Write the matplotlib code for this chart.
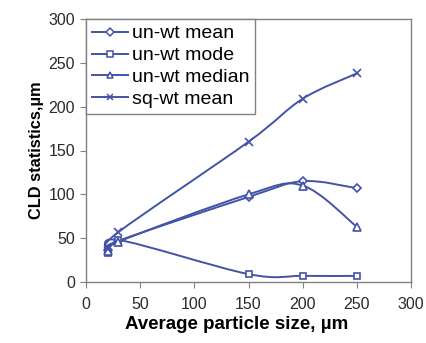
import matplotlib
matplotlib.use("Agg")
import matplotlib.pyplot as plt
from matplotlib.path import Path
from matplotlib.patches import PathPatch
from matplotlib.lines import Line2D

plt.rcParams["font.family"] = ["Liberation Sans", "DejaVu Sans"]

# ── data ─────────────────────────────────────────────
sizes = [20, 30, 150, 200, 250]
unwt_mean = [37, 47, 97, 115, 107]
unwt_mode = [33, 48, 9, 7, 7]
unwt_median = [35, 46, 100, 110, 63]
sqwt_mean = [38, 57, 160, 209, 238]

series = [
    ("un-wt mean", unwt_mean, "D", 4.5),
    ("un-wt mode", unwt_mode, "s", 5),
    ("un-wt median", unwt_median, "^", 5.5),
    ("sq-wt mean", sqwt_mean, "x", 6),
]

BLUE = "#4253a8"


def smooth_path(xs, ys, ax):
    """Excel-like smoothed line: Catmull-Rom as cubic Bezier in display space."""
    pts = ax.transData.transform(list(zip(xs, ys)))
    verts = [tuple(pts[0])]
    codes = [Path.MOVETO]
    n = len(pts)
    for i in range(n - 1):
        p0 = pts[i - 1] if i > 0 else pts[i]
        p1 = pts[i]
        p2 = pts[i + 1]
        p3 = pts[i + 2] if i + 2 < n else pts[i + 1]
        c1 = p1 + (p2 - p0) / 6.0
        c2 = p2 - (p3 - p1) / 6.0
        verts += [tuple(c1), tuple(c2), tuple(p2)]
        codes += [Path.CURVE4] * 3
    return Path(verts, codes)


fig = plt.figure(figsize=(4.27, 3.43), dpi=100)
ax = fig.add_axes([86 / 427, 1 - 282 / 343, 325 / 427, 263 / 343])
ax.set_xlim(0, 300)
ax.set_ylim(0, 300)

for label, vals, mk, ms in series:
    p = smooth_path(sizes, vals, ax)
    ax.add_patch(PathPatch(p, facecolor="none", edgecolor=BLUE, lw=1.4,
                           transform=None, zorder=2))
    ax.plot(sizes, vals, linestyle="none", marker=mk, ms=ms, mfc="white",
            mec=BLUE, mew=1.2, zorder=3)

handles = [Line2D([], [], color=BLUE, lw=1.4, marker=mk, ms=ms * 0.8,
                  mfc="white", mec=BLUE, mew=1.1) for _, _, mk, ms in series]
leg = ax.legend(handles, [s[0] for s in series], loc="upper left",
                bbox_to_anchor=(0, 1), borderaxespad=0, fancybox=False,
                framealpha=1, edgecolor="#808080", fontsize=14,
                handlelength=1.85, handletextpad=0.2, labelspacing=0.22,
                borderpad=0.3)
leg.get_frame().set_linewidth(1.0)

for s in ax.spines.values():
    s.set_color("#808080")
    s.set_linewidth(1.0)

ax.set_xticks(range(0, 301, 50))
ax.set_yticks(range(0, 301, 50))
ax.tick_params(direction="out", length=4, color="#808080", labelsize=11.5,
               labelcolor="#2a2a2a", pad=4)
ax.tick_params(axis="x", pad=7)

ax.set_xlabel("Average particle size, µm", fontsize=13.5, fontweight="bold")
ax.xaxis.set_label_coords(0.465, -0.128)
ax.set_ylabel("CLD statistics,µm", fontsize=11.8, fontweight="bold",
              labelpad=3)

fig.savefig("out.png", dpi=100)
